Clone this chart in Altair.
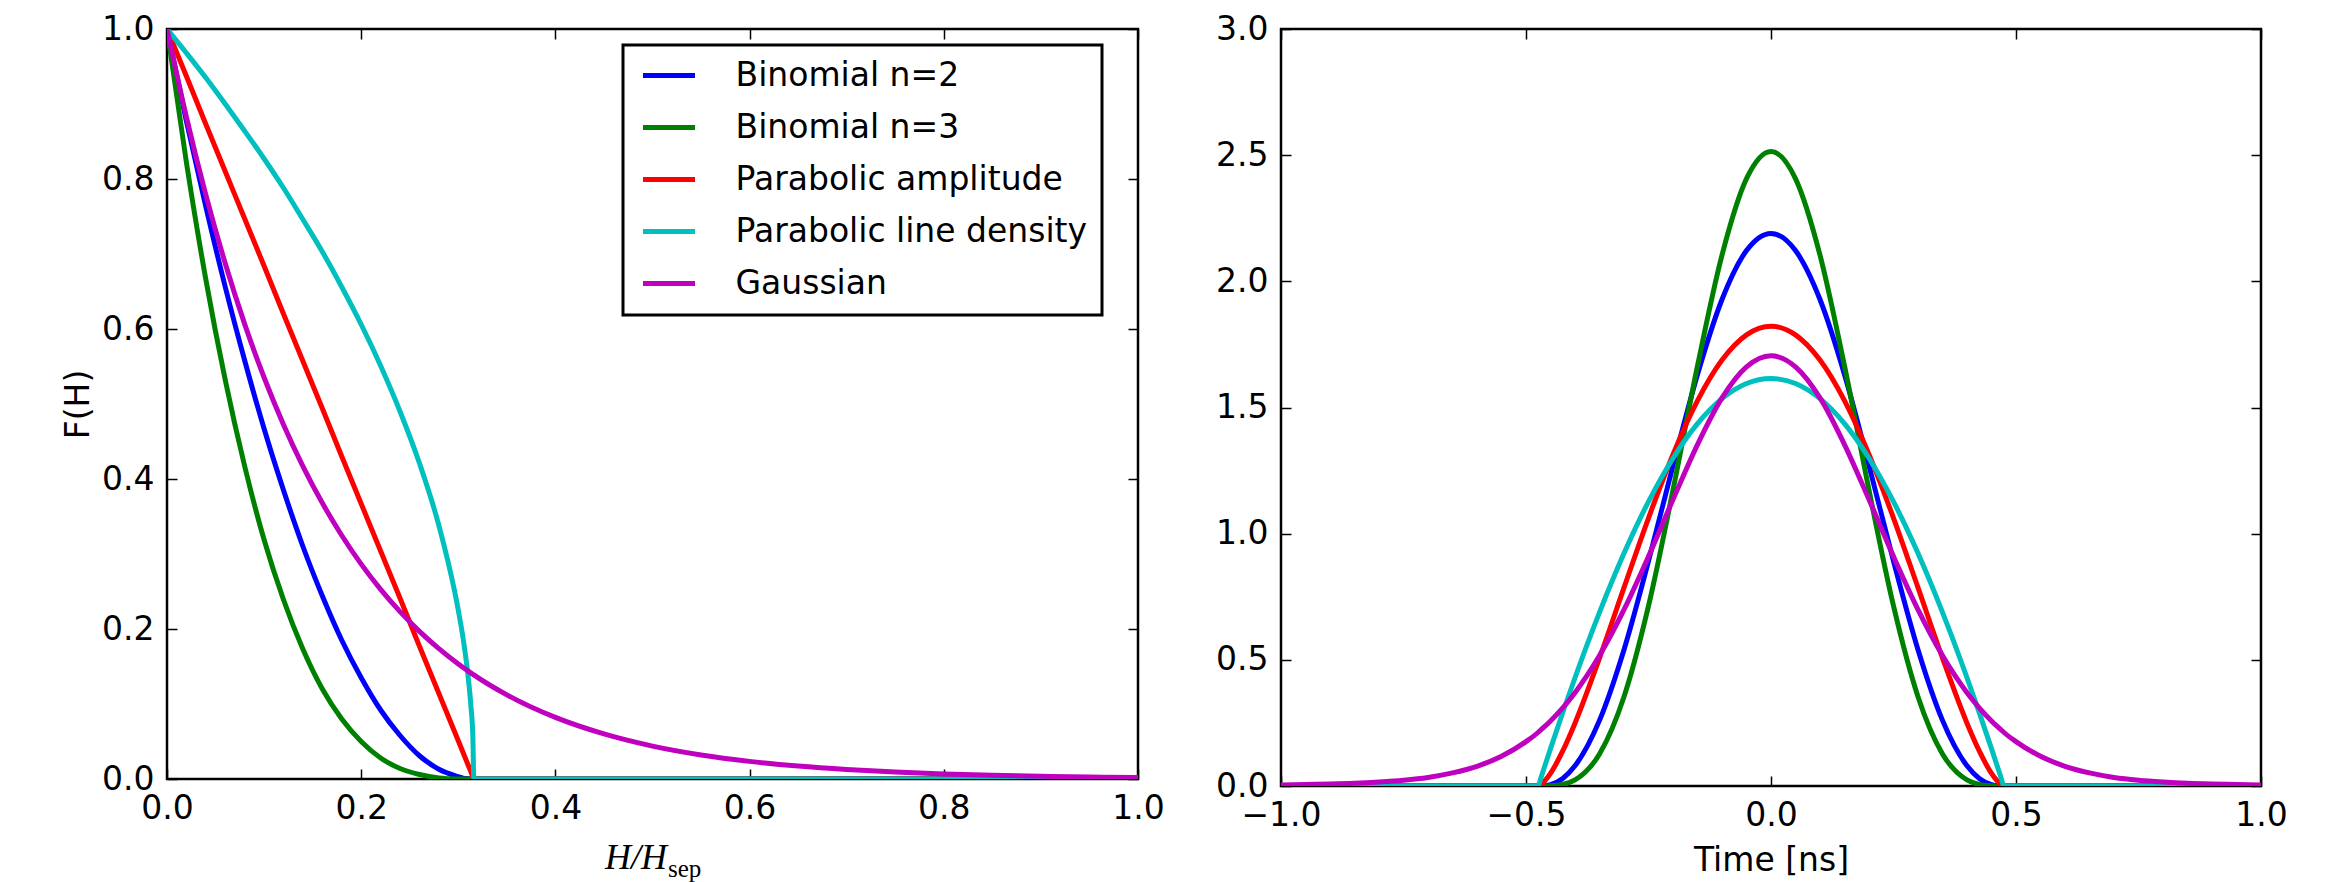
import altair as alt
import pandas as pd

FONT = "DejaVu Sans"
FS = 33

series_names = ["Binomial n=2", "Binomial n=3", "Parabolic amplitude",
                "Parabolic line density", "Gaussian"]
series_colors = ["#0000ff", "#008000", "#ff0000", "#00bfbf", "#bf00bf"]

# ---------------- left panel: distribution functions F(H) ----------------
h_ratio = [0.0, 0.02, 0.04, 0.06, 0.08, 0.10, 0.12, 0.14, 0.16, 0.18, 0.20,
           0.22, 0.24, 0.26, 0.28, 0.30, 0.305, 0.31, 0.313, 0.315, 0.316,
           0.35, 0.40, 0.45, 0.50, 0.55, 0.60, 0.65, 0.70, 0.75, 0.80, 0.85,
           0.90, 0.95, 1.00]
F_binomial2 = [1.0, 0.877, 0.763, 0.656, 0.558, 0.467, 0.385, 0.310, 0.244,
               0.185, 0.135, 0.092, 0.058, 0.031, 0.013, 0.003, 0.001, 0.0004,
               0.0001, 0.0, 0.0,
               0.0, 0.0, 0.0, 0.0, 0.0, 0.0, 0.0, 0.0, 0.0, 0.0, 0.0, 0.0, 0.0, 0.0]
F_binomial3 = [1.0, 0.822, 0.666, 0.532, 0.417, 0.319, 0.239, 0.173, 0.120,
               0.080, 0.050, 0.028, 0.014, 0.006, 0.0015, 0.0001, 0.0, 0.0,
               0.0, 0.0, 0.0,
               0.0, 0.0, 0.0, 0.0, 0.0, 0.0, 0.0, 0.0, 0.0, 0.0, 0.0, 0.0, 0.0, 0.0]
F_par_amp = [1.0, 0.937, 0.873, 0.810, 0.747, 0.684, 0.620, 0.557, 0.494,
             0.430, 0.367, 0.304, 0.241, 0.177, 0.114, 0.051, 0.035, 0.019,
             0.0095, 0.003, 0.0,
             0.0, 0.0, 0.0, 0.0, 0.0, 0.0, 0.0, 0.0, 0.0, 0.0, 0.0, 0.0, 0.0, 0.0]
F_par_line = [1.0, 0.968, 0.935, 0.900, 0.864, 0.827, 0.788, 0.746, 0.703,
              0.656, 0.606, 0.551, 0.490, 0.421, 0.338, 0.225, 0.187, 0.138,
              0.097, 0.056, 0.0,
              0.0, 0.0, 0.0, 0.0, 0.0, 0.0, 0.0, 0.0, 0.0, 0.0, 0.0, 0.0, 0.0, 0.0]
F_gauss = [1.0, 0.8825, 0.7788, 0.6873, 0.6065, 0.5353, 0.4724, 0.4169, 0.3679,
           0.3247, 0.2865, 0.2528, 0.2231, 0.1969, 0.1738, 0.1534, 0.1487,
           0.1441, 0.1414, 0.1397, 0.1388,
           0.1122, 0.0821, 0.0601, 0.0439, 0.0321, 0.0235, 0.0172, 0.0126,
           0.0092, 0.0067, 0.0049, 0.0036, 0.0026, 0.0019]

# ---------------- right panel: line densities ----------------
t_ns = [-1.0, -0.95, -0.9, -0.85, -0.8, -0.75, -0.7, -0.65, -0.6, -0.55, -0.5,
        -0.475, -0.47, -0.46, -0.45, -0.425, -0.4, -0.35, -0.3, -0.25, -0.2,
        -0.15, -0.1, -0.05, 0.0, 0.05, 0.1, 0.15, 0.2, 0.25, 0.3, 0.35, 0.4,
        0.425, 0.45, 0.46, 0.47, 0.475, 0.5, 0.55, 0.6, 0.65, 0.7, 0.75, 0.8,
        0.85, 0.9, 0.95, 1.0]
L_binomial2 = [0.0, 0.0, 0.0, 0.0, 0.0, 0.0, 0.0, 0.0, 0.0, 0.0, 0.0,
               0.0, 0.0001, 0.0016, 0.0055, 0.030, 0.080, 0.260, 0.540, 0.891,
               1.270, 1.631, 1.928, 2.122, 2.190, 2.122, 1.928, 1.631, 1.270,
               0.891, 0.540, 0.260, 0.080, 0.030, 0.0055, 0.0016, 0.0001, 0.0,
               0.0, 0.0, 0.0, 0.0, 0.0, 0.0, 0.0, 0.0, 0.0, 0.0, 0.0]
L_binomial3 = [0.0, 0.0, 0.0, 0.0, 0.0, 0.0, 0.0, 0.0, 0.0, 0.0, 0.0,
               0.0, 0.0, 0.0001, 0.0006, 0.006, 0.024, 0.127, 0.354, 0.714,
               1.173, 1.665, 2.104, 2.407, 2.515, 2.407, 2.104, 1.665, 1.173,
               0.714, 0.354, 0.127, 0.024, 0.006, 0.0006, 0.0001, 0.0, 0.0,
               0.0, 0.0, 0.0, 0.0, 0.0, 0.0, 0.0, 0.0, 0.0, 0.0, 0.0]
L_par_amp = [0.0, 0.0, 0.0, 0.0, 0.0, 0.0, 0.0, 0.0, 0.0, 0.0, 0.0,
             0.0, 0.005, 0.024, 0.050, 0.139, 0.249, 0.507, 0.786, 1.062,
             1.314, 1.527, 1.688, 1.788, 1.822, 1.788, 1.688, 1.527, 1.314,
             1.062, 0.786, 0.507, 0.249, 0.139, 0.050, 0.024, 0.005, 0.0,
             0.0, 0.0, 0.0, 0.0, 0.0, 0.0, 0.0, 0.0, 0.0, 0.0, 0.0]
L_par_line = [0.0, 0.0, 0.0, 0.0, 0.0, 0.0, 0.0, 0.0, 0.0, 0.0, 0.0,
              0.0, 0.030, 0.089, 0.148, 0.291, 0.429, 0.688, 0.922, 1.127,
              1.299, 1.436, 1.535, 1.595, 1.615, 1.595, 1.535, 1.436, 1.299,
              1.127, 0.922, 0.688, 0.429, 0.291, 0.148, 0.089, 0.030, 0.0,
              0.0, 0.0, 0.0, 0.0, 0.0, 0.0, 0.0, 0.0, 0.0, 0.0, 0.0]
L_gauss = [0.004, 0.006, 0.008, 0.011, 0.016, 0.023, 0.034, 0.052, 0.078,
           0.118, 0.176, 0.213, 0.222, 0.239, 0.258, 0.310, 0.370, 0.517,
           0.699, 0.910, 1.135, 1.353, 1.538, 1.661, 1.705, 1.661, 1.538,
           1.353, 1.135, 0.910, 0.699, 0.517, 0.370, 0.310, 0.258, 0.239,
           0.222, 0.213, 0.176, 0.118, 0.078, 0.052, 0.034, 0.023, 0.016,
           0.011, 0.008, 0.006, 0.004]

left_x_ticks = [0.0, 0.2, 0.4, 0.6, 0.8, 1.0]
left_y_ticks = [0.0, 0.2, 0.4, 0.6, 0.8, 1.0]
right_x_ticks = [-1.0, -0.5, 0.0, 0.5, 1.0]
right_y_ticks = [0.0, 0.5, 1.0, 1.5, 2.0, 2.5, 3.0]


def long_table(xs, series):
    rows = []
    for name, vals in zip(series_names, series):
        for i, (x, y) in enumerate(zip(xs, vals)):
            rows.append({"series": name, "x": x, "y": y, "i": i})
    return pd.DataFrame(rows)


left_df = long_table(h_ratio, [F_binomial2, F_binomial3, F_par_amp, F_par_line, F_gauss])
right_df = long_table(t_ns, [L_binomial2, L_binomial3, L_par_amp, L_par_line, L_gauss])

color_scale = alt.Scale(domain=series_names, range=series_colors)

legend = alt.Legend(
    orient="none", legendX=456, legendY=16, title=None,
    symbolType="M-2.6,0H2.6", symbolSize=400, symbolStrokeWidth=5,
    labelFont=FONT, labelFontSize=FS, labelColor="black", labelLimit=1000,
    strokeColor="black", fillColor="white", padding=14, rowPadding=18,
    symbolOffset=15.5, labelOffset=50, cornerRadius=0,
)


def panel(df, xdom, ydom, xticks, yticks, w, h, leg, xtitle, ytitle):
    xs = alt.Scale(domain=xdom, nice=False, zero=False)
    ys = alt.Scale(domain=ydom, nice=False, zero=False)
    common = dict(offset=-10, tickSize=10, format=".1f", domain=False, grid=False,
                  labelFlush=False, labelOverlap=False)
    bottom = alt.Axis(orient="bottom", values=xticks, labelPadding=13,
                      title=xtitle if xtitle else None, titlePadding=12, **common)
    left = alt.Axis(orient="left", values=yticks, labelPadding=13,
                    title=ytitle if ytitle else None, titlePadding=6, **common)
    top = alt.Axis(orient="top", values=xticks, labels=False, title=None, **common)
    right = alt.Axis(orient="right", values=yticks, labels=False, title=None, **common)

    if leg is None:
        color = alt.Color("series:N", scale=color_scale, sort=series_names, legend=None)
    else:
        color = alt.Color("series:N", scale=color_scale, sort=series_names, legend=leg)

    lines = alt.Chart(df).mark_line(
        strokeWidth=5, clip=True, interpolate="monotone", strokeJoin="round"
    ).encode(
        x=alt.X("x:Q", scale=xs, axis=bottom),
        y=alt.Y("y:Q", scale=ys, axis=left),
        color=color,
        order=alt.Order("i:Q"),
    )
    frame = alt.Chart(df).mark_point(opacity=0, clip=True, size=1).encode(
        x=alt.X("x:Q", scale=xs, axis=top),
        y=alt.Y("y:Q", scale=ys, axis=right),
    )
    return lines, frame, w, h


l_lines, l_frame, lw, lh = panel(left_df, [0, 1], [0, 1], left_x_ticks, left_y_ticks,
                                 971, 750, legend, None, "F(H)")
one = pd.DataFrame({"k": [0]})
hh_text = alt.Chart(one).mark_text(
    text="H/H", font="Liberation Serif", fontStyle="italic", fontSize=36,
    align="right", baseline="alphabetic", color="black"
).encode(x=alt.value(500), y=alt.value(840))
sep_text = alt.Chart(one).mark_text(
    text="sep", font="Liberation Serif", fontSize=25,
    align="left", baseline="alphabetic", color="black"
).encode(x=alt.value(501), y=alt.value(848))

left_chart = alt.layer(l_lines, l_frame, hh_text, sep_text).resolve_axis(
    x="independent", y="independent"
).properties(width=lw, height=lh)

r_lines, r_frame, rw, rh = panel(right_df, [-1, 1], [0, 3], right_x_ticks, right_y_ticks,
                                 980, 757, None, "Time [ns]", None)
right_chart = alt.layer(r_lines, r_frame).resolve_axis(
    x="independent", y="independent"
).properties(width=rw, height=rh)

chart = alt.hconcat(left_chart, right_chart, spacing=48).properties(
    padding={"left": 61, "top": 11, "right": 5, "bottom": 5},
    background="white",
).configure_axis(
    labelFont=FONT, labelFontSize=FS, labelColor="black",
    tickColor="black", tickWidth=1.5,
    titleFont=FONT, titleFontSize=FS, titleFontWeight="normal", titleColor="black",
).configure_view(
    stroke="black", strokeWidth=2.5
).configure_legend(
    strokeWidth=3
)

chart.save("out.html", embed_options={"renderer": "svg", "actions": False})
